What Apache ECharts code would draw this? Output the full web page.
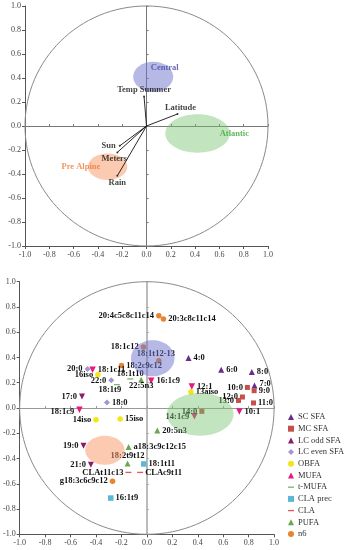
<!DOCTYPE html>
<html><head><meta charset="utf-8">
<script src="https://cdn.jsdelivr.net/npm/echarts@6/dist/echarts.min.js"></script>
<style>html,body{margin:0;padding:0;background:#fff}#c{width:346px;height:550px}</style>
</head><body><div id="c"></div>
<script>
// ---------------- data ----------------
const tickLabels = ['-1.0','-0.8','-0.6','-0.4','-0.2','0.0','0.2','0.4','0.6','0.8','1.0'];

// loadings (top plot)
const varNames = ['Temp Summer','Latitude','Sun','Meters','Rain'];
const varX = [-0.02, 0.255, -0.22, -0.24, -0.24];
const varY = [0.245, 0.10, -0.165, -0.22, -0.415];

// region ellipses (top plot)
const regionNames = ['Central','Atlantic','Pre Alpine'];
const regionCX = [0.055, 0.42, -0.32];
const regionCY = [0.41, -0.0625, -0.34];
const regionRX = [0.165, 0.265, 0.162];
const regionRY = [0.125, 0.16, 0.11];
const regionLabelX = [0.15, 0.723, -0.54];
const regionLabelY = [0.483, -0.064, -0.34];

// region ellipses (bottom plot)
const scoreCX = [0.046, 0.419, -0.33];
const scoreCY = [0.393, -0.05, -0.334];
const scoreRX = [0.171, 0.262, 0.155];
const scoreRY = [0.1425, 0.169, 0.115];

// fatty acids (bottom plot)
const scSfaNames = ['4:0','6:0','8:0','7:0'];
const scSfaX = [0.327, 0.584, 0.825, 0.846];
const scSfaY = [0.396, 0.303, 0.285, 0.179];

const mcSfaNames = ['10:0','9:0','12:0','13:0','11:0','14:0'];
const mcSfaX = [0.79, 0.843, 0.751, 0.72, 0.838, 0.432];
const mcSfaY = [0.163, 0.137, 0.087, 0.06, 0.04, -0.027];

const lcOddNames = ['17:0','19:0','21:0'];
const lcOddX = [-0.51, -0.498, -0.44];
const lcOddY = [0.092, -0.298, -0.449];

const lcEvenNames = ['20:0','22:0','18:0'];
const lcEvenX = [-0.467, -0.28, -0.314];
const lcEvenY = [0.309, 0.219, 0.044];

const obfaNames = ['16iso','14iso','15iso','13aiso'];
const obfaX = [-0.385, -0.40, -0.21, 0.346];
const obfaY = [0.264, -0.093, -0.087, 0.127];

const mufaNames = ['18:1c11','16:1c9','18:1c9','12:1','10:1','14:1c9'];
const mufaX = [-0.427, 0.034, -0.53, 0.353, 0.727, 0.374];
const mufaY = [0.303, 0.216, -0.013, 0.171, -0.027, -0.066];

const tMufaNames = ['18:1t10','18:1t9'];
const tMufaX = [-0.131, -0.236];
const tMufaY = [0.23, 0.185];

const claPrecNames = ['18:1t11','16:1t9'];
const claPrecX = [-0.024, -0.284];
const claPrecY = [-0.443, -0.713];

const claNames = ['CLAt11c13','CLAc9t11'];
const claX = [-0.145, -0.053];
const claY = [-0.51, -0.51];

const pufaNames = ['22:5n3','20:5n3','a18:3c9c12c15','18:2t9t12'];
const pufaX = [-0.045, 0.082, -0.144, -0.152];
const pufaY = [0.224, -0.178, -0.309, -0.44];

const n6Names = ['20:4c5c8c11c14','20:3c8c11c14','18:1c12','18:1t12-13','18:2c9c12','g18:3c6c9c12'];
const n6X = [0.094, 0.13, -0.027, 0.094, -0.2, -0.27];
const n6Y = [0.73, 0.705, 0.483, 0.375, 0.337, -0.58];

// ---------------- layout / style ----------------
const SERIF = 'Liberation Serif';
const leftLabels = ['20:4c5c8c11c14','18:1c12','20:0','16iso','22:0','17:0','18:1c9','14iso','19:0','21:0',
  'CLAt11c13','g18:3c6c9c12','10:0','12:0','13:0','14:0','14:1c9'];
const topLabels = ['18:1t12-13','18:1t10','18:2t9t12'];
const bottomLabels = ['22:5n3','18:1t9'];
const labelOffsets = {'18:1t9':[-7,-2],'18:1t12-13':[-3,2],'18:1c9':[0,2],'7:0':[0,-2],'22:5n3':[0,-3],'18:1t10':[0,2],'18:2t9t12':[0,2]};

function pos(n){
  if (leftLabels.includes(n)) return 'left';
  if (topLabels.includes(n)) return 'top';
  if (bottomLabels.includes(n)) return 'bottom';
  return 'right';
}
function pts(names, xs, ys){
  return names.map((n,i)=>({name:n, value:[xs[i], ys[i]],
    label:{position:pos(n), offset:labelOffsets[n]||[0,0]}}));
}
const dash = 'path://M0,0H10V2.2H0Z';
const groups = [
  {name:'SC SFA', names:scSfaNames, x:scSfaX, y:scSfaY, symbol:'triangle', size:6, rot:0, color:'#6b2a8f'},
  {name:'MC SFA', names:mcSfaNames, x:mcSfaX, y:mcSfaY, symbol:'rect', size:5, rot:0, color:'#c4504b'},
  {name:'LC odd SFA', names:lcOddNames, x:lcOddX, y:lcOddY, symbol:'triangle', size:6, rot:180, color:'#8a1c6c'},
  {name:'LC even SFA', names:lcEvenNames, x:lcEvenX, y:lcEvenY, symbol:'diamond', size:6, rot:0, color:'#a497cc'},
  {name:'OBFA', names:obfaNames, x:obfaX, y:obfaY, symbol:'circle', size:5.5, rot:0, color:'#f4e41a'},
  {name:'MUFA', names:mufaNames, x:mufaX, y:mufaY, symbol:'triangle', size:6.5, rot:180, color:'#e6197c'},
  {name:'t-MUFA', names:tMufaNames, x:tMufaX, y:tMufaY, symbol:dash, size:6, rot:0, color:'#78b86a'},
  {name:'CLA prec', names:claPrecNames, x:claPrecX, y:claPrecY, symbol:'rect', size:5.5, rot:0, color:'#5cb6d6'},
  {name:'CLA', names:claNames, x:claX, y:claY, symbol:dash, size:6, rot:0, color:'#e05a5a'},
  {name:'PUFA', names:pufaNames, x:pufaX, y:pufaY, symbol:'triangle', size:6, rot:0, color:'#6aa84f'},
  {name:'n6', names:n6Names, x:n6X, y:n6Y, symbol:'circle', size:5.5, rot:0, color:'#e8832f'}
];
const ellColors = ['rgba(110,115,205,0.5)','rgba(120,195,110,0.45)','rgba(248,150,100,0.5)'];

const fmt = v => tickLabels[Math.round((v + 1) / 0.2)] || '';

function mainX(g){ return {type:'value', gridIndex:g, min:-1, max:1, interval:0.2, position:'bottom',
  axisLine:{onZero:false, lineStyle:{color:'#555', width:1}}, axisTick:{length:3, lineStyle:{color:'#555'}},
  axisLabel:{fontSize:8, fontFamily:SERIF, color:'#444', margin:5, formatter:fmt}, splitLine:{show:false}}; }
function mainY(g){ return {type:'value', gridIndex:g, min:-1, max:1, interval:0.2, position:'left',
  axisLine:{onZero:false, lineStyle:{color:'#555', width:1}}, axisTick:{length:3, lineStyle:{color:'#555'}},
  axisLabel:{fontSize:8, fontFamily:SERIF, color:'#444', margin:4, formatter:fmt}, splitLine:{show:false}}; }
function zeroX(g, c, w){ return {type:'value', gridIndex:g, min:-1, max:1, interval:0.2, position:'top',
  axisLine:{onZero:true, lineStyle:{color:c, width:w}}, axisTick:{length:2, lineStyle:{color:c}},
  axisLabel:{show:false}, splitLine:{show:false}}; }
function zeroY(g, c, w){ return {type:'value', gridIndex:g, min:-1, max:1, interval:0.2, position:'right',
  axisLine:{onZero:true, lineStyle:{color:c, width:w}}, axisTick:{length:2, lineStyle:{color:c}},
  axisLabel:{show:false}, splitLine:{show:false}}; }

function ellipseSeries(axIdx, cx, cy, rx, ry, fills, stroke, z){
  return {type:'custom', xAxisIndex:axIdx, yAxisIndex:axIdx, z:z, silent:true, clip:false,
    data: cx.map((v,i)=>[v, cy[i], rx[i], ry[i], i]),
    renderItem: function(params, api){
      const c = api.coord([api.value(0), api.value(1)]);
      const s = api.size([api.value(2), api.value(3)]);
      const i = api.value(4);
      return {type:'ellipse', shape:{cx:c[0], cy:c[1], rx:s[0], ry:s[1]},
        style: stroke ? {fill:'none', stroke:stroke, lineWidth:1} : {fill:fills[i]}};
    }};
}

const series = [];
// unit circles
series.push(ellipseSeries(0, [0], [0], [1], [1], null, '#8a8a8a', 1));
series.push(ellipseSeries(2, [0], [0], [1], [1], null, '#8a8a8a', 1));
// top ellipses
series.push(ellipseSeries(0, regionCX, regionCY, regionRX, regionRY, ellColors, null, 2));
// vectors
series.push({type:'scatter', xAxisIndex:0, yAxisIndex:0, z:5, symbolSize:2, itemStyle:{color:'#111'},
  data: varNames.map((n,i)=>({name:n, value:[varX[i], varY[i]],
    label:{position: ['top','top','left','inside','bottom'][i], offset:[[0,2],[3,2],[0,0],[-3,6],[0,-2]][i]}})),
  label:{show:true, formatter:'{b}', fontFamily:SERIF, fontWeight:'bold', fontSize:8.5, color:'#111', distance:3},
  markLine:{silent:true, symbol:['none','arrow'], symbolSize:[0,5], animation:false,
    lineStyle:{color:'#111', width:0.9, type:'solid'}, label:{show:false}, emphasis:{disabled:true},
    data: varX.map((x,i)=>[{coord:[0,0]},{coord:[x, varY[i]]}])}
});
// region names
series.push({type:'scatter', xAxisIndex:0, yAxisIndex:0, z:6, symbolSize:0, silent:true,
  data: regionNames.map((n,i)=>({name:n, value:[regionLabelX[i], regionLabelY[i]],
    label:{color:['#3f47a6','#3aa637','#ee7a35'][i]}})),
  label:{show:true, position:'inside', formatter:'{b}', fontFamily:SERIF, fontWeight:'bold', fontSize:8.5}
});
// fatty acid groups
groups.forEach(g=>{
  series.push({type:'scatter', name:g.name, xAxisIndex:2, yAxisIndex:2, z:2,
    symbol:g.symbol, symbolSize:g.size, symbolRotate:g.rot, symbolKeepAspect:true,
    itemStyle:{color:g.color, opacity:1},
    data: pts(g.names, g.x, g.y),
    label:{show:true, formatter:'{b}', fontFamily:SERIF, fontWeight:'bold', fontSize:8.5, color:'#111', distance:2}
  });
});
// bottom ellipses (drawn over points)
series.push(ellipseSeries(2, scoreCX, scoreCY, scoreRX, scoreRY, ellColors, null, 3));

const chart = echarts.init(document.getElementById('c'), null, {renderer:'canvas'});
chart.setOption({
  animation:false,
  backgroundColor:'#fff',
  grid:[
    {left:25, top:6, width:243, height:240},
    {left:19.5, top:281.7, width:254.6, height:252.6}
  ],
  xAxis:[mainX(0), zeroX(0,'#777',1), mainX(1), zeroX(1,'#999',1)],
  yAxis:[mainY(0), zeroY(0,'#777',1), mainY(1), zeroY(1,'#aaa',1.6)],
  legend:{orient:'vertical', left:283, top:407, itemWidth:6, itemHeight:6, itemGap:1.7,
    textStyle:{fontFamily:SERIF, fontSize:8.5, color:'#333', lineHeight:10, padding:[0,0,0,-1]},
    data: groups.map(g=>g.name)},
  series: series
});
</script>
</body></html>
